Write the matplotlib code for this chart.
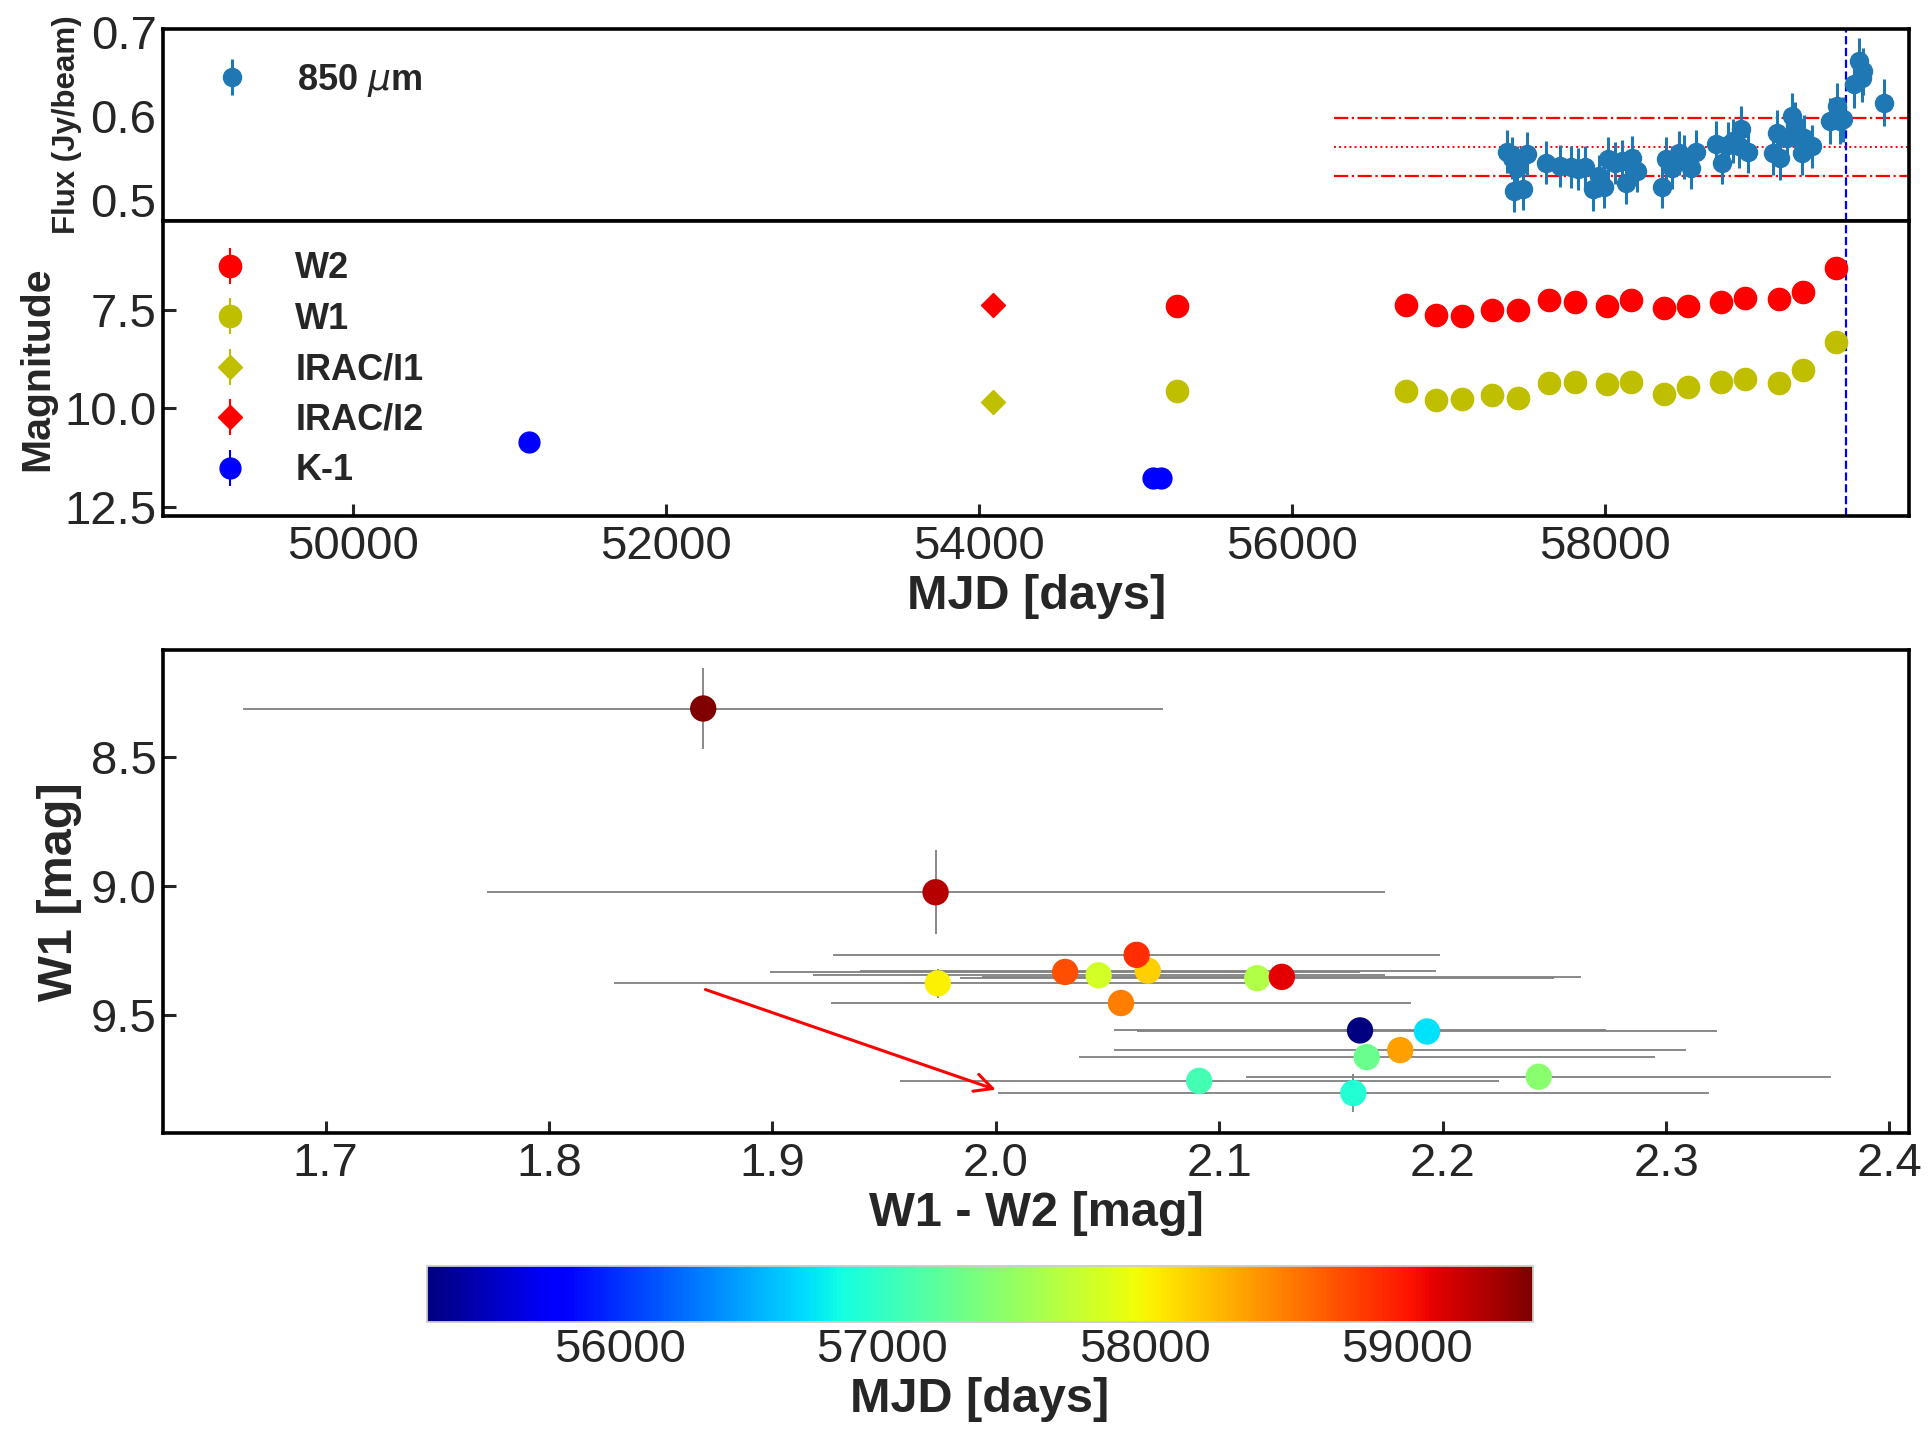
import numpy as np
import matplotlib
matplotlib.use("Agg")
import matplotlib.pyplot as plt

plt.rcParams['font.family'] = ['Liberation Sans', 'DejaVu Sans']
plt.rcParams['text.color'] = '#262626'
plt.rcParams['axes.labelcolor'] = '#262626'
plt.rcParams['xtick.color'] = '#262626'
plt.rcParams['ytick.color'] = '#262626'
plt.rcParams['mathtext.fontset'] = 'dejavusans'

# ---------------- data ----------------
# SCUBA-2 850 micron light curve
mjd_850 = [57378, 57406, 57442, 57502, 57423, 57477, 57625, 57715, 57783, 57832,
           57875, 57928, 57966, 57996, 58024, 58066, 58109, 58135, 58173, 58205,
           58369, 58391, 58429, 58477, 58508, 58550, 58584, 58712, 58752, 58791,
           58823, 58870, 58861, 58918, 59078, 59104, 59121, 59168, 59196, 59217,
           59260, 59274, 59324, 59441, 59483, 59505, 59526, 59594, 59628, 59654,
           59643, 59788]
flux_850 = [0.558, 0.550, 0.539, 0.555, 0.511, 0.514, 0.545, 0.541, 0.540, 0.537,
            0.540, 0.513, 0.529, 0.516, 0.549, 0.544, 0.547, 0.521, 0.550, 0.535,
            0.516, 0.549, 0.539, 0.556, 0.552, 0.539, 0.557, 0.567, 0.545, 0.566,
            0.570, 0.585, 0.564, 0.558, 0.556, 0.580, 0.550, 0.574, 0.600, 0.590,
            0.556, 0.574, 0.564, 0.594, 0.612, 0.594, 0.596, 0.638, 0.665, 0.653,
            0.645, 0.616]
ferr_850 = [0.026, 0.025, 0.025, 0.026, 0.025, 0.025, 0.026, 0.025, 0.025, 0.025,
            0.025, 0.025, 0.025, 0.025, 0.026, 0.025, 0.025, 0.025, 0.026, 0.025,
            0.025, 0.026, 0.025, 0.026, 0.026, 0.025, 0.026, 0.027, 0.026, 0.027,
            0.026, 0.027, 0.026, 0.026, 0.026, 0.027, 0.026, 0.027, 0.027, 0.027,
            0.026, 0.027, 0.026, 0.027, 0.027, 0.027, 0.027, 0.028, 0.028, 0.028,
            0.028, 0.028]
flux_mean = 0.5634
flux_std = 0.0341
flux_line_start = 56270
outburst_mjd = 59543

# NEOWISE W1/W2
mjd_wise = [55265, 56729, 56922, 57089, 57282, 57447, 57647, 57812, 58015, 58170,
            58380, 58536, 58745, 58900, 59113, 59268, 59480]
w1 = [9.558, 9.562, 9.800, 9.753, 9.661, 9.737, 9.356, 9.345, 9.376, 9.327,
      9.634, 9.452, 9.332, 9.266, 9.351, 9.024, 8.314]
w2 = [7.395, 7.369, 7.640, 7.662, 7.495, 7.494, 7.239, 7.299, 7.402, 7.259,
      7.453, 7.396, 7.301, 7.203, 7.223, 7.051, 6.445]
w1_err = [0.03, 0.03, 0.075, 0.03, 0.03, 0.03, 0.03, 0.03, 0.055, 0.03,
          0.03, 0.03, 0.03, 0.03, 0.03, 0.162, 0.155]
w2_err = [0.02] * 17
color_err = [0.110, 0.130, 0.159, 0.134, 0.129, 0.131, 0.133, 0.128, 0.145, 0.129,
             0.128, 0.130, 0.132, 0.136, 0.134, 0.201, 0.206]

# Spitzer IRAC
mjd_irac = [54094]
irac1 = [9.84]
irac2 = [7.375]

# K band
mjd_k = [51124, 55116, 55163]
kmag = [10.85, 11.78, 11.78]

# extinction arrow (W1-W2, W1)
arrow_start = (1.870, 9.400)
arrow_end = (2.000, 9.787)

# ---------------- figure ----------------
fig = plt.figure(figsize=(19.28, 14.34), dpi=100)
ax_f = fig.add_axes([0.0848, 0.8461, 0.9053, 0.1335])
ax_m = fig.add_axes([0.0848, 0.6399, 0.9053, 0.2062], sharex=ax_f)
ax_c = fig.add_axes([0.0848, 0.2096, 0.9053, 0.3371])
cax = fig.add_axes([0.2213, 0.0780, 0.5738, 0.0395])

TICK = 34
LAB = 35
LEG = 26

for ax in (ax_f, ax_m, ax_c):
    for sp in ax.spines.values():
        sp.set_color('black')
        sp.set_linewidth(2.6)

# --- flux panel ---
ax_f.errorbar(mjd_850, flux_850, yerr=ferr_850, fmt='o', color='#1f77b4',
              ms=13, elinewidth=2.2, capsize=0, label='850 $\\mu$m', zorder=3)
xmax = 59945
for yv, ls, lw in [(flux_mean + flux_std, '-.', 1.6), (flux_mean, ':', 1.4),
                   (flux_mean - flux_std, '-.', 1.6)]:
    ax_f.hlines(yv, flux_line_start, xmax, colors='red', linestyles=ls, lw=lw, zorder=2)
ax_f.axvline(outburst_mjd, color='blue', ls='--', lw=1.6, zorder=2)
ax_f.set_xlim(48790, xmax)
ax_f.set_ylim(0.476, 0.703)
ax_f.set_yticks([0.5, 0.6, 0.7])
ax_f.tick_params(axis='y', length=0, labelsize=TICK, pad=5)
ax_f.tick_params(axis='x', length=0, labelbottom=False)
ax_f.set_ylabel('Flux (Jy/beam)', fontsize=22.5, fontweight='bold', labelpad=6)
ax_f.legend(loc='upper left', frameon=False, prop={'size': LEG, 'weight': 'bold'},
            borderaxespad=0.5, handletextpad=0.8)

# --- magnitude panel ---
h_w2 = ax_m.errorbar(mjd_wise, w2, yerr=w2_err, fmt='o', color='red', ms=16,
                     elinewidth=1.5, label='W2', zorder=3)
h_w1 = ax_m.errorbar(mjd_wise, w1, yerr=w1_err, fmt='o', color='y', ms=16,
                     elinewidth=1.5, label='W1', zorder=3)
h_i1 = ax_m.errorbar(mjd_irac, irac1, yerr=[0.02], fmt='D', color='y', ms=12,
                     elinewidth=1.5, label='IRAC/I1', zorder=3)
h_i2 = ax_m.errorbar(mjd_irac, irac2, yerr=[0.02], fmt='D', color='red', ms=12,
                     elinewidth=1.5, label='IRAC/I2', zorder=3)
h_k = ax_m.errorbar(mjd_k, kmag, yerr=[0.02, 0.02, 0.02], fmt='o', color='blue', ms=15,
                    elinewidth=1.5, label='K-1', zorder=3)
ax_m.axvline(outburst_mjd, color='blue', ls='--', lw=1.6, zorder=2)
ax_m.set_ylim(12.75, 5.23)
ax_m.set_yticks([7.5, 10.0, 12.5])
ax_m.set_xticks([50000, 52000, 54000, 56000, 58000])
ax_m.tick_params(direction='in', length=9, width=2.2, labelsize=TICK, pad=5)
ax_m.tick_params(axis='x', pad=6)
ax_m.set_xlabel('MJD [days]', fontsize=LAB, fontweight='bold', labelpad=4)
ax_m.set_ylabel('Magnitude', fontsize=29.5, fontweight='bold', labelpad=6)
ax_m.legend(handles=[h_w2, h_w1, h_i1, h_i2, h_k], loc='upper left', frameon=False,
            prop={'size': LEG, 'weight': 'bold'}, labelspacing=0.43,
            borderaxespad=0.45, handletextpad=0.8)

# --- colour-magnitude panel ---
w1a = np.array(w1)
w2a = np.array(w2)
col = w1a - w2a
ax_c.errorbar(col, w1a, xerr=color_err, yerr=w1_err, fmt='none', ecolor='gray',
              elinewidth=1.3, zorder=1)
sc = ax_c.scatter(col, w1a, c=mjd_wise, cmap='jet', s=360, edgecolors='none',
                  vmin=min(mjd_wise), vmax=max(mjd_wise), zorder=3)
ax_c.annotate('', xy=arrow_end, xytext=arrow_start,
              arrowprops=dict(arrowstyle='->', color='red', lw=2.2,
                              mutation_scale=32, shrinkA=0, shrinkB=0))
ax_c.set_xlim(1.6274, 2.4087)
ax_c.set_ylim(9.956, 8.088)
ax_c.set_xticks([1.7, 1.8, 1.9, 2.0, 2.1, 2.2, 2.3, 2.4])
ax_c.set_yticks([8.5, 9.0, 9.5])
ax_c.tick_params(direction='in', length=9, width=2.2, labelsize=TICK, pad=5)
ax_c.tick_params(axis='x', pad=6)
ax_c.set_xlabel('W1 - W2 [mag]', fontsize=LAB, fontweight='bold', labelpad=4)
ax_c.set_ylabel('W1 [mag]', fontsize=LAB, fontweight='bold', labelpad=6)

cb = fig.colorbar(sc, cax=cax, orientation='horizontal')
cb.set_ticks([56000, 57000, 58000, 59000])
cb.outline.set_edgecolor('0.8')
cb.outline.set_linewidth(1.3)
cax.tick_params(length=0, labelsize=TICK, pad=4)
cb.set_label('MJD [days]', fontsize=LAB, fontweight='bold', labelpad=4)

fig.savefig('out.png', dpi=100)
